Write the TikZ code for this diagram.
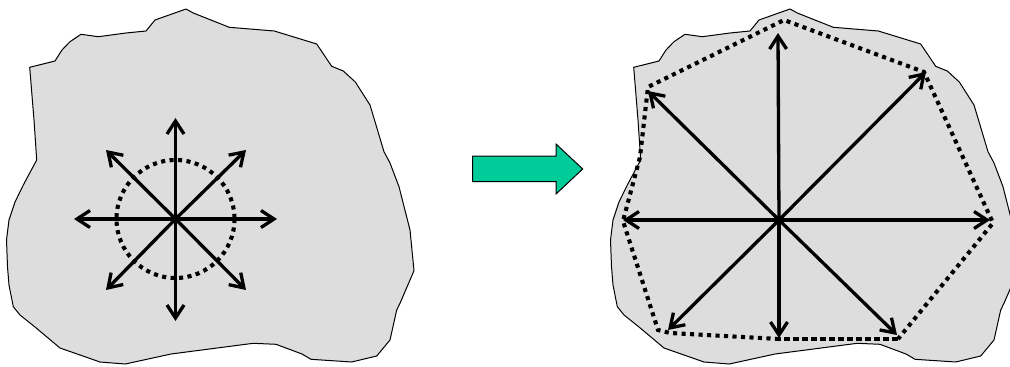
\documentclass[tikz,border=0pt]{standalone}
\usetikzlibrary{arrows.meta}
\definecolor{blobgray}{HTML}{DDDDDD}
\definecolor{mint}{HTML}{00CC99}

\begin{document}
\begin{tikzpicture}[x=1pt, y=-1pt]
    \tikzset{
      blob/.style={fill=blobgray, draw=black, line width=1pt, line join=round},
      ray/.style={-{Straight Barb[length=13pt,width=17pt]}, line width=3.3pt},
      dotline/.style={line width=4.1pt, dash pattern=on 4.1pt off 4.4pt},
      thickdots/.style={line width=4.8pt, dash pattern=on 5.8pt off 3.2pt},
      shiftarrow/.style={fill=mint, draw=black, line width=1pt}
    }
    \useasboundingbox (0,0) rectangle (1010,367);

    % the two lumps, same outline
    \foreach \dx in {0,604} {
      \filldraw[blob, shift={(\dx,0)}] (29.7,67.3) -- (55,61) -- (62,50) -- (70,41.7)
        -- (81,34.3) -- (98.3,36.7) -- (126,33) -- (146,31) -- (155,20) -- (186,9)
        -- (193.3,13) -- (229.3,27.3) -- (274.3,31) -- (316.7,44) -- (331.7,66.3)
        -- (343.3,71) -- (355.3,82) -- (370,105) -- (384,151.7) -- (390,163)
        -- (399,186.7) -- (410,230) -- (414,270.7) -- (400,303.3) -- (396.7,310)
        -- (390,340) -- (376.7,356) -- (351.7,362) -- (311,359.3) -- (302,354)
        -- (276,344.3) -- (253.3,343.3) -- (171,354) -- (125.3,364) -- (100,362)
        -- (60,348) -- (35,327) -- (20,315) -- (13.3,306.7) -- (9,285) -- (7.5,266.7)
        -- (6.5,240) -- (9,220) -- (15,202) -- (23.3,185) -- (36.7,160) -- (34,120)
        -- cycle;
    }

    % left: small star
    \coordinate (c1) at (175.5,219);
    \draw[dotline] (c1) circle[radius=59];
    \foreach \tx/\ty [count=\i] in {175.5/118, 246/150, 277/219, 246/290,
                                     175.5/321, 106/290, 74/219, 106/150} {
      \coordinate (a\i) at (\tx,\ty);
      \draw[ray] (c1) -- (a\i);
    }

    % middle arrow
    \filldraw[shiftarrow] (472.7,156) -- (556,156) -- (556,144) -- (582.7,169)
      -- (556,194) -- (556,181.7) -- (472.7,181.7) -- cycle;

    % right: stretched star and its hull
    \coordinate (c2) at (779,220);
    \coordinate (p1) at (648,87);
    \coordinate (p2) at (784,20);
    \coordinate (p3) at (924,72);
    \coordinate (p4) at (993,223);
    \coordinate (p5) at (898,339);
    \coordinate (p6) at (779,339);
    \coordinate (p7) at (670,333);
    \coordinate (p8) at (658,330);
    \coordinate (p9) at (623,221);
    \coordinate (p10) at (640,157);
    \draw[dotline] (p6) -- (p7) -- (p8) -- (p9) -- (p10) -- (p1) -- (p2)
      -- (p3) -- (p4) -- (p5);
    \draw[thickdots] (p5) -- (p6);
    \foreach \tx/\ty [count=\i] in {778/33, 926/72, 990/220, 897/335,
                                    779/338, 668/330, 623/220, 648/91} {
      \coordinate (b\i) at (\tx,\ty);
      \draw[ray] (c2) -- (b\i);
    }
\end{tikzpicture}
\end{document}
